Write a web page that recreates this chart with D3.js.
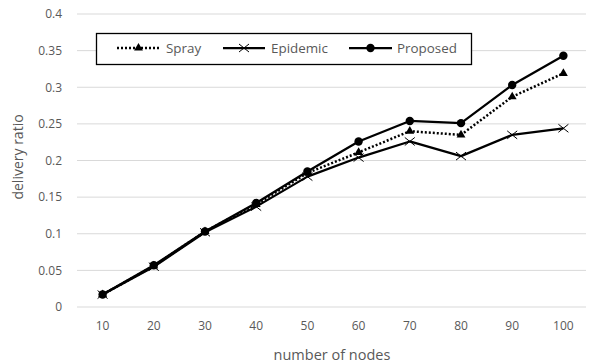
<!DOCTYPE html>
<html><head><meta charset="utf-8">
<script src="https://cdn.jsdelivr.net/npm/d3@7"></script>
<style>body{margin:0;background:#fff;} svg{display:block;} text{font-family:"Open Sans",sans-serif;}</style>
</head><body><svg id="c" width="591" height="364"></svg>
<script>
const categories = [10,20,30,40,50,60,70,80,90,100];
const spray    = [0.017,0.056,0.103,0.140,0.183,0.211,0.240,0.235,0.287,0.319];
const epidemic = [0.017,0.055,0.102,0.137,0.178,0.204,0.226,0.206,0.235,0.244];
const proposed = [0.017,0.057,0.103,0.142,0.185,0.226,0.254,0.251,0.303,0.343];
const yTicks = [0,0.05,0.1,0.15,0.2,0.25,0.3,0.35,0.4];
const yTickLabels = ["0","0.05","0.1","0.15","0.2","0.25","0.3","0.35","0.4"];
const seriesNames = ["Spray","Epidemic","Proposed"];

const svg = d3.select("#c");
const x = d3.scaleBand().domain(categories).range([77,589]);
const y = d3.scaleLinear().domain([0,0.4]).range([307,14]);
const txt = "#595959";

// gridlines
svg.append("g").selectAll("line").data(yTicks).join("line")
  .attr("x1",77).attr("x2",586).attr("y1",d=>y(d)).attr("y2",d=>y(d))
  .attr("stroke","#d9d9d9").attr("stroke-width",1);

// y axis labels
const ya = svg.append("g").attr("transform","translate(77,0)")
  .call(d3.axisLeft(y).tickValues(yTicks).tickSize(0).tickPadding(15).tickFormat((d,i)=>yTickLabels[i]));
ya.select(".domain").remove();
ya.selectAll("text").attr("fill",txt).style("font-size","12px").style("font-family","Open Sans");

// x axis labels
const xa = svg.append("g").attr("transform","translate(0,307)")
  .call(d3.axisBottom(x).tickSize(0).tickPadding(14));
xa.select(".domain").remove();
xa.selectAll("text").attr("fill",txt).style("font-size","12px").style("font-family","Open Sans");

// axis titles
svg.append("text").attr("x",332).attr("y",355).attr("dy","0.35em").attr("text-anchor","middle")
  .attr("fill",txt).style("font-size","14.5px").text("number of nodes");
svg.append("text").attr("transform","translate(18,157) rotate(-90)").attr("dy","0.35em").attr("text-anchor","middle")
  .attr("fill",txt).style("font-size","14px").text("delivery ratio");

const cx = d => x(d) + x.bandwidth()/2;
const line = d3.line().x((d,i)=>cx(categories[i])).y(d=>y(d));

function drawSeries(vals, dash, marker){
  const g = svg.append("g");
  g.append("path").datum(vals).attr("d",line).attr("fill","none")
    .attr("stroke","#000").attr("stroke-width",dash?2.5:2.25)
    .attr("stroke-dasharray",dash?"2,2":null).attr("stroke-linejoin","round");
  vals.forEach((v,i)=>marker(g, cx(categories[i]), y(v)));
}
const tri = (g,px,py)=>g.append("path").attr("d",d3.symbol(d3.symbolTriangle,34)()).attr("transform",`translate(${px},${py})`).attr("fill","#000");
const xm = (g,px,py)=>g.append("path").attr("d",`M${px-5},${py-4}L${px+5},${py+4}M${px-5},${py+4}L${px+5},${py-4}`).attr("stroke","#000").attr("stroke-width",1);
const circ = (g,px,py)=>g.append("circle").attr("cx",px).attr("cy",py).attr("r",4.2).attr("fill","#000");

drawSeries(epidemic,false,xm);
drawSeries(spray,true,tri);
drawSeries(proposed,false,circ);

// legend
const lg = svg.append("g");
lg.append("rect").attr("x",96.5).attr("y",33.5).attr("width",375).attr("height",31)
  .attr("fill","#fff").attr("stroke","#000").attr("stroke-width",1.3);
const legItems = [
  {name:seriesNames[0], x1:117, x2:160, dash:true, m:tri, tx:166},
  {name:seriesNames[1], x1:223, x2:265, dash:false, m:xm, tx:271},
  {name:seriesNames[2], x1:349, x2:392, dash:false, m:circ, tx:397}
];
legItems.forEach(it=>{
  lg.append("line").attr("x1",it.x1).attr("x2",it.x2).attr("y1",48).attr("y2",48)
    .attr("stroke","#000").attr("stroke-width",it.dash?2.5:2.25).attr("stroke-dasharray",it.dash?"2,2":null);
  it.m(lg,(it.x1+it.x2)/2,48);
  lg.append("text").attr("x",it.tx).attr("y",48).attr("dy","0.35em").attr("fill",txt)
    .style("font-size","13.4px").text(it.name);
});
</script></body></html>
